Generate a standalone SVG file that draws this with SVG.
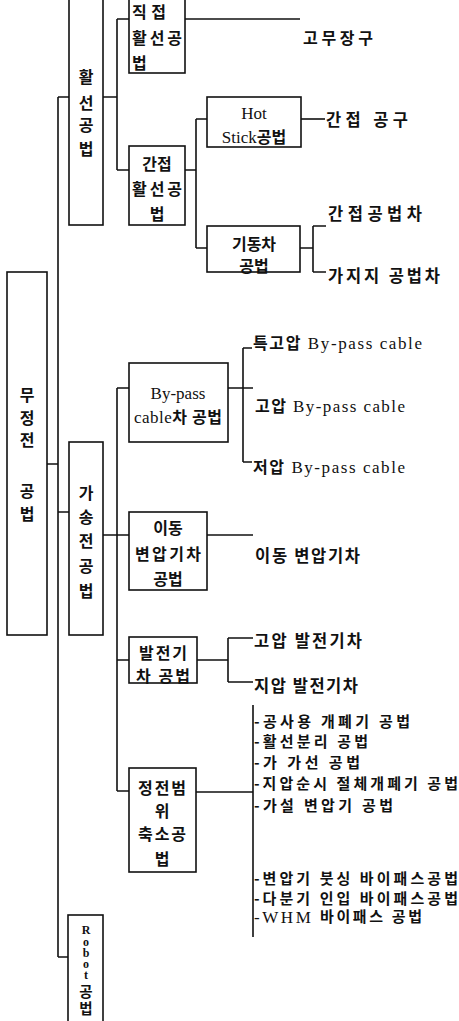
<svg xmlns="http://www.w3.org/2000/svg" width="459" height="1021" viewBox="0 0 459 1021">
<style>
.box{fill:#fff;stroke:#111;stroke-width:1.6}
.ln{fill:none;stroke:#111;stroke-width:1.6}
text{font-family:'Liberation Serif','Noto Sans CJK KR',serif;font-size:16px;fill:#111;font-weight:700;dominant-baseline:central}
.c{text-anchor:middle}
.k{font-family:'Noto Sans CJK KR','Liberation Serif',sans-serif}
.en{font-weight:400;font-size:17px}
.lf{font-size:16.5px}
.li{font-size:15px}
.rb{font-size:12px;font-weight:700;text-anchor:middle}
</style>
<rect width="459" height="1021" fill="#fff"/>
<g id="connectors">
<path class="ln" d="M58,97 V957 M58,97 H69 M47,464 H58 M58,512 H69 M58,957 H68"/>
<path class="ln" d="M103,97 H117 M117,19 V170 M117,19 H129 M117,170 H129"/>
<path class="ln" d="M185,19 H300"/>
<path class="ln" d="M185,170 H196 M196,119 V248 M196,119 H207 M196,248 H207"/>
<path class="ln" d="M301,119 H325"/>
<path class="ln" d="M300,248 H313 M313,226 V272 M313,226 H326 M313,272 H326"/>
<path class="ln" d="M103,535 H129 M117,388 V791 M117,388 H129 M117,660 H129 M117,791 H129"/>
<path class="ln" d="M228,388 H253 M243,348 V462 M243,348 H252 M243,462 H252"/>
<path class="ln" d="M207,535 H253"/>
<path class="ln" d="M197,660 H228 M228,638 V682 M228,638 H253 M228,682 H253"/>
<path class="ln" d="M196,792 H253 M253,705 V937"/>
</g>
<g id="n-mujeongjeon">
<rect class="box" x="7" y="272" width="40" height="363"/>
<text class="c k" x="27" y="394">무</text>
<text class="c k" x="27" y="417">정</text>
<text class="c k" x="27" y="439">전</text>
<text class="c k" x="27" y="490">공</text>
<text class="c k" x="27" y="513">법</text>
</g>
<g id="n-hwalseon">
<rect class="box" x="69" y="-2" width="34" height="227"/>
<text class="c k" x="86" y="76">활</text>
<text class="c k" x="86" y="102">선</text>
<text class="c k" x="86" y="124">공</text>
<text class="c k" x="86" y="148">법</text>
</g>
<g id="n-jikjeop">
<rect class="box" x="129" y="-2" width="56" height="75"/>
<text class="k" x="132" y="11" textLength="34">직접</text>
<text class="k" x="132" y="37" textLength="50">활선공</text>
<text class="k" x="132" y="62">법</text>
</g>
<g id="n-ganjeop">
<rect class="box" x="129" y="146" width="56" height="79"/>
<text class="c k" x="157" y="163">간접</text>
<text class="c k" x="157" y="188" textLength="50">활선공</text>
<text class="c k" x="157" y="213">법</text>
</g>
<g id="n-hotstick">
<rect class="box" x="207" y="97" width="94" height="50"/>
<text class="c en" x="254" y="113">Hot</text>
<text class="c" x="254" y="137"><tspan class="en">Stick</tspan>공법</text>
</g>
<g id="n-gidongcha">
<rect class="box" x="207" y="226" width="93" height="46"/>
<text class="c k" x="254" y="243">기동차</text>
<text class="c k" x="254" y="265">공법</text>
</g>
<g id="n-gasongjeon">
<rect class="box" x="69" y="442" width="34" height="193"/>
<text class="c k" x="86" y="492">가</text>
<text class="c k" x="86" y="516">송</text>
<text class="c k" x="86" y="540">전</text>
<text class="c k" x="86" y="565">공</text>
<text class="c k" x="86" y="590">법</text>
</g>
<g id="n-bypass">
<rect class="box" x="129" y="363" width="99" height="79"/>
<text class="c en" x="178" y="393" font-size="18">By-pass</text>
<text class="c" x="178" y="417" textLength="88"><tspan class="en">cable</tspan>차 공법</text>
</g>
<g id="n-idong">
<rect class="box" x="129" y="512" width="78" height="78"/>
<text class="c k" x="168" y="527">이동</text>
<text class="c k" x="168" y="553" textLength="66">변압기차</text>
<text class="c k" x="168" y="578">공법</text>
</g>
<g id="n-baljeon">
<rect class="box" x="129" y="637" width="68" height="46"/>
<text class="c k" x="163" y="652" textLength="48">발전기</text>
<text class="c k" x="163" y="675" textLength="54">차 공법</text>
</g>
<g id="n-jeongjeon">
<rect class="box" x="129" y="768" width="67" height="104"/>
<text class="c k" x="162" y="787" textLength="48">정전범</text>
<text class="c k" x="162" y="810">위</text>
<text class="c k" x="162" y="833" textLength="48">축소공</text>
<text class="c k" x="162" y="858">법</text>
</g>
<g id="n-robot">
<rect class="box" x="68" y="915" width="35" height="110"/>
<text class="rb"><tspan x="86" y="930">R</tspan><tspan x="86" y="942">o</tspan><tspan x="86" y="953">b</tspan><tspan x="86" y="964">o</tspan><tspan x="86" y="975">t</tspan><tspan class="k" font-size="14.5" x="86" y="990">공</tspan><tspan class="k" font-size="14.5" x="86" y="1007">법</tspan></text>
</g>
<g id="leaves">
<text class="k" x="303" y="37" font-size="17" textLength="70">고무장구</text>
<text class="k lf" x="326" y="119" textLength="82">간접 공구</text>
<text class="k lf" x="328" y="213" textLength="94">간접공법차</text>
<text class="k lf" x="328" y="275" textLength="112">가지지 공법차</text>
<text x="253" y="343" textLength="169">특고압<tspan class="en"> By-pass cable</tspan></text>
<text x="255" y="406" textLength="150">고압<tspan class="en"> By-pass cable</tspan></text>
<text x="253" y="467" textLength="152">저압<tspan class="en"> By-pass cable</tspan></text>
<text class="k lf" x="255" y="555" textLength="105">이동 변압기차</text>
<text class="k lf" x="254" y="640" textLength="108">고압 발전기차</text>
<text class="k lf" x="254" y="685" textLength="104">지압 발전기차</text>
<text class="k li" x="254" y="720" textLength="156">-공사용 개폐기 공법</text>
<text class="k li" x="254" y="740" textLength="114">-활선분리 공법</text>
<text class="k li" x="254" y="761" textLength="106">-가 가선 공법</text>
<text class="k li" x="254" y="782" textLength="204">-지압순시 절체개폐기 공법</text>
<text class="k li" x="254" y="804" textLength="139">-가설 변압기 공법</text>
<text class="k li" x="254" y="877" textLength="204">-변압기 붓싱 바이패스공법</text>
<text class="k li" x="254" y="897" textLength="204">-다분기 인입 바이패스공법</text>
<text class="li" x="254" y="917" textLength="168"><tspan class="en">-WHM </tspan>바이패스 공법</text>
</g>
</svg>
